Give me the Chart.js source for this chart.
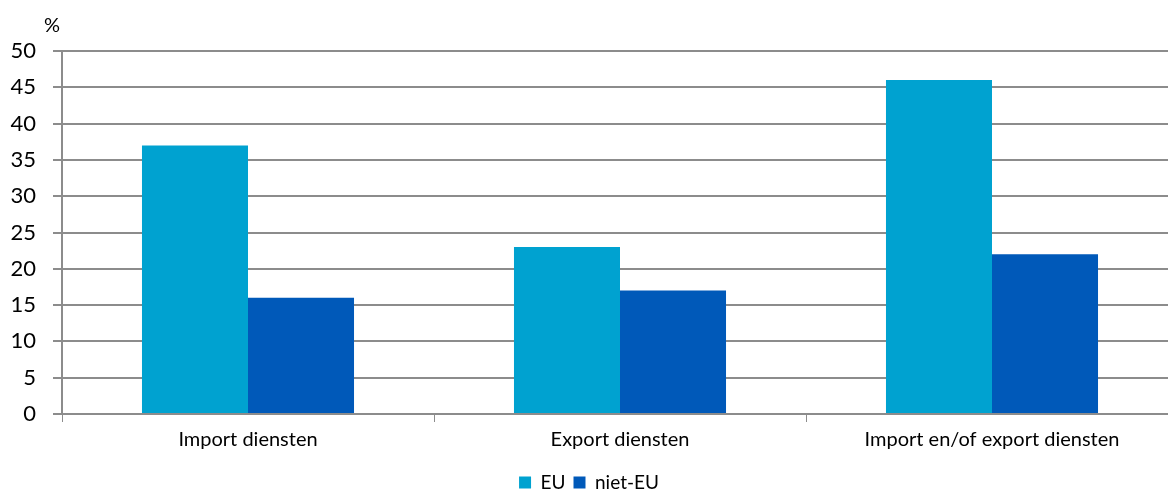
<!DOCTYPE html>
<html>
<head>
<meta charset="utf-8">
<script src="https://cdn.jsdelivr.net/npm/chart.js@4/dist/chart.umd.min.js"></script>
<style>
  html, body { margin: 0; padding: 0; background: #fff; overflow: hidden; }
  #wrap { width: 1180px; height: 490px; position: relative; }
</style>
</head>
<body>
<div id="wrap"><canvas id="chart"></canvas></div>
<script>
const categories = ['Import diensten', 'Export diensten', 'Import en/of export diensten'];
const euValues = [37, 23, 46];
const nietEuValues = [16, 17, 22];
const seriesNames = ['EU', 'niet-EU'];

const FONT = 'Lato, "Open Sans", sans-serif';
const GRID = '#8c8c8c';

// "%" unit label above the y axis
const unitLabel = {
  id: 'unitLabel',
  afterDraw(chart) {
    const { ctx, chartArea } = chart;
    ctx.save();
    ctx.font = '20px ' + FONT;
    ctx.fillStyle = '#000';
    ctx.textAlign = 'center';
    ctx.textBaseline = 'middle';
    ctx.fillText('%', chartArea.left - 10, chartArea.top - 25);
    ctx.restore();
  }
};

new Chart(document.getElementById('chart'), {
  type: 'bar',
  data: {
    labels: categories,
    datasets: [
      { label: seriesNames[0], data: euValues, backgroundColor: '#00A2D0' },
      { label: seriesNames[1], data: nietEuValues, backgroundColor: '#0059B9' }
    ]
  },
  options: {
    responsive: true,
    maintainAspectRatio: false,
    animation: false,
    layout: { padding: { top: 51, left: 0, right: 2, bottom: -12 } },
    datasets: { bar: { categoryPercentage: 0.57, barPercentage: 1 } },
    plugins: {
      tooltip: { enabled: false },
      legend: {
        position: 'bottom',
        labels: {
          font: { family: FONT, size: 19 },
          color: '#000',
          boxWidth: 12,
          boxHeight: 12,
          padding: 8
        }
      }
    },
    scales: {
      x: {
        afterFit(scale) { scale.height += 7; },
        grid: { drawOnChartArea: false, color: GRID, tickLength: 8, offset: true },
        border: { color: GRID, width: 2 },
        ticks: { font: { family: FONT, size: 20 }, color: '#000', padding: 6 }
      },
      y: {
        min: 0,
        max: 50,
        afterFit(scale) { scale.width = 62; },
        grid: { color: GRID, lineWidth: 2, tickLength: 9 },
        border: { color: GRID, width: 2 },
        ticks: { stepSize: 5, font: { family: FONT, size: 22 }, color: '#000', padding: 17 }
      }
    }
  },
  plugins: [unitLabel]
});
</script>
</body>
</html>
